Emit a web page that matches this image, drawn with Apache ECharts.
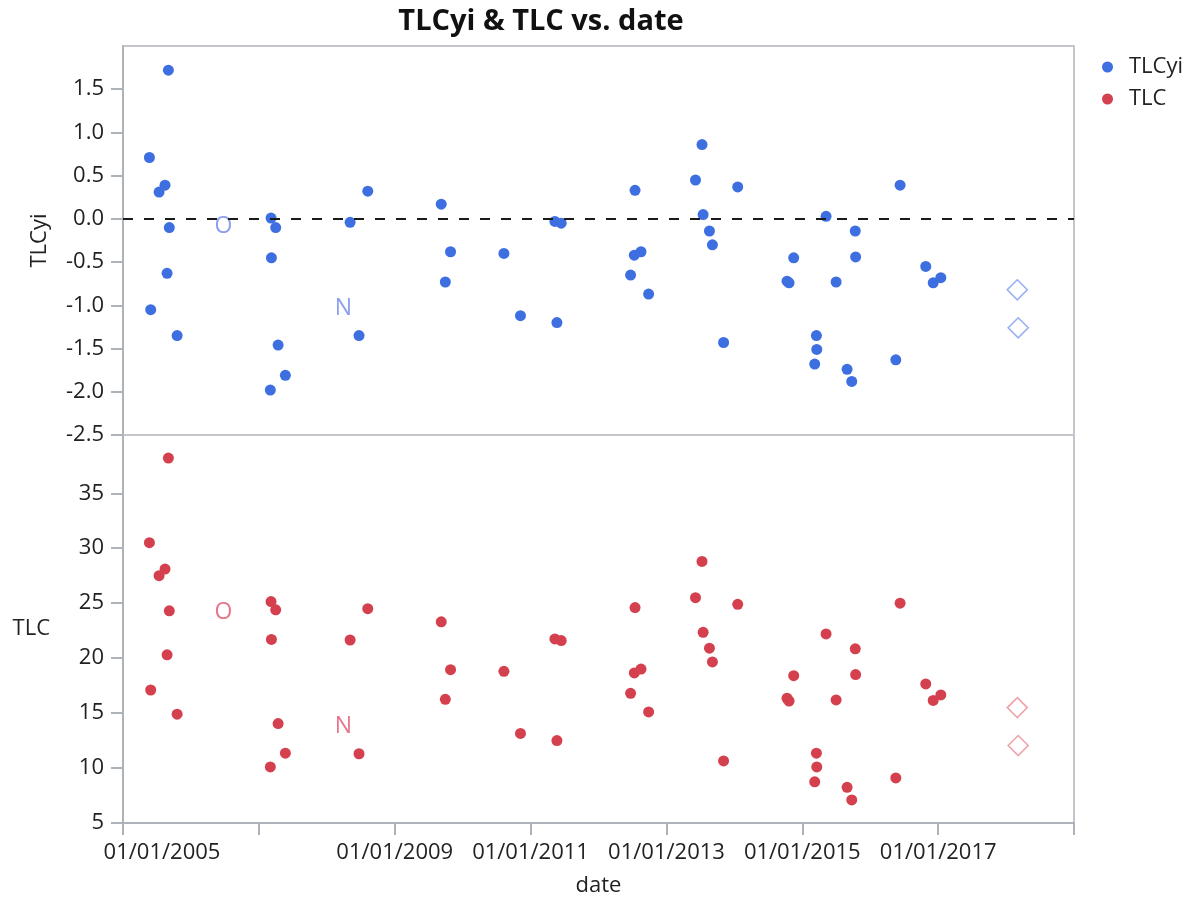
<!DOCTYPE html>
<html>
<head>
<meta charset="utf-8">
<script src="https://cdn.jsdelivr.net/npm/echarts@6/dist/echarts.min.js"></script>
<style>
html,body{margin:0;padding:0;background:#fff;}
#c{width:1194px;height:898px;}
</style>
</head>
<body>
<div id="c"></div>
<script>
// ---- data ----
const dates = ['2005-05-23','2005-05-30','2005-07-14','2005-08-15','2005-09-02','2005-09-07','2005-08-26','2005-10-19',
  '2007-03-08','2007-04-02','2007-03-10','2007-04-15','2007-05-24','2007-03-04',
  '2008-05-06','2008-08-09','2008-06-23',
  '2009-09-08','2009-10-28','2009-09-30',
  '2010-08-11','2010-11-08',
  '2011-05-12','2011-06-15','2011-05-23',
  '2012-07-16','2012-07-12','2012-08-17','2012-06-22','2012-09-27',
  '2013-06-06','2013-07-11','2013-07-17','2013-08-20','2013-09-05','2014-01-19','2013-11-04',
  '2014-11-16','2014-10-11','2014-10-22',
  '2015-05-09','2015-10-13','2015-10-15','2015-07-02','2015-03-18','2015-03-20','2015-03-09','2015-08-30','2015-09-24',
  '2016-06-10','2016-05-18','2016-10-26','2016-12-05','2017-01-15'];
const tlcyi = [0.71,-1.05,0.31,0.39,1.72,-0.10,-0.63,-1.35,
  0.01,-0.10,-0.45,-1.46,-1.81,-1.98,
  -0.04,0.32,-1.35,
  0.17,-0.38,-0.73,
  -0.40,-1.12,
  -0.03,-0.05,-1.20,
  0.33,-0.42,-0.38,-0.65,-0.87,
  0.45,0.86,0.05,-0.14,-0.30,0.37,-1.43,
  -0.45,-0.72,-0.74,
  0.03,-0.14,-0.44,-0.73,-1.35,-1.51,-1.68,-1.74,-1.88,
  0.39,-1.63,-0.55,-0.74,-0.68];
const tlc = [30.5,17.1,27.5,28.1,38.2,24.3,20.3,14.9,
  25.15,24.4,21.7,14.05,11.35,10.1,
  21.65,24.5,11.3,
  23.3,18.95,16.25,
  18.8,13.15,
  21.75,21.6,12.5,
  24.6,18.65,19.0,16.8,15.1,
  25.5,28.8,22.35,20.9,19.65,24.9,10.65,
  18.4,16.35,16.1,
  22.2,20.85,18.5,16.2,11.35,10.1,8.75,8.25,7.1,
  25.0,9.1,17.65,16.15,16.65];
// letter-marked rows
const letterDates = ['2006-06-25','2008-03-31'];
const letterChars = ['O','N'];
const letterTlcyi = [-0.085,-1.04];
const letterTlc = [24.15,13.75];
// diamond-marked rows
const diamondDates = ['2018-03-02','2018-03-07'];
const diamondTlcyi = [-0.82,-1.26];
const diamondTlc = [15.5,12.05];
// axes
const xMin = '2005-01-01', xMax = '2019-01-01';
const xTickDates = ['2005-01-01','2007-01-01','2009-01-01','2011-01-01','2013-01-01','2015-01-01','2017-01-01','2019-01-01'];
const xLabelDates = ['2005-01-01','2009-01-01','2011-01-01','2013-01-01','2015-01-01','2017-01-01'];
const yTopTicks = [-2.5,-2.0,-1.5,-1.0,-0.5,0.0,0.5,1.0,1.5];
const yTopMin = -2.5, yTopMax = 2.0;
const yBotTicks = [5,10,15,20,25,30,35];
const yBotMin = 5, yBotMax = 40.3;

// ---- helpers ----
const ts = s => echarts.number.parseDate(s).getTime();
const pad = n => (n < 10 ? '0' : '') + n;
const fmtDate = v => { const d = new Date(v); return pad(d.getMonth()+1) + '/' + pad(d.getDate()) + '/' + d.getFullYear(); };
const zip = (xs, ys) => xs.map((d, i) => [ts(d), ys[i]]);

const FONT = '"Open Sans", "Noto Sans", sans-serif';
const FS = 22;
const BLUE = '#3e6fe1', RED = '#d5404f';
const AXIS_COLOR = '#aeb3ba';
const TXT = '#222';
const minTs = ts(xMin);

const chart = echarts.init(document.getElementById('c'));
const axisCommonX = {
  type: 'value', min: ts(xMin), max: ts(xMax), scale: true,
  splitLine: { show: false }
};
chart.setOption({
  animation: false,
  textStyle: { fontFamily: FONT },
  title: {
    text: 'TLCyi & TLC vs. date', left: 536, top: 2, textAlign: 'center',
    textStyle: { fontFamily: FONT, fontWeight: 'bold', fontSize: 29, color: '#111' }
  },
  legend: {
    data: ['TLCyi', 'TLC'], orient: 'vertical', left: 1097, top: 50,
    icon: 'circle', itemWidth: 11, itemHeight: 11, itemGap: 8,
    textStyle: { fontFamily: FONT, fontSize: FS, color: TXT, lineHeight: 24, padding: [0, 0, 0, 11] }
  },
  grid: [
    { left: 123, top: 46, width: 951, height: 389, show: true, borderColor: '#c3c7cc', borderWidth: 2, containLabel: false },
    { left: 123, top: 435, width: 951, height: 388, show: true, borderColor: '#c3c7cc', borderWidth: 2, containLabel: false }
  ],
  xAxis: [
    Object.assign({ gridIndex: 0, show: false }, axisCommonX),
    Object.assign({
      gridIndex: 1,
      name: 'date', nameLocation: 'middle', nameGap: 52,
      nameTextStyle: { fontFamily: FONT, fontSize: FS, color: TXT },
      axisLine: { show: true, lineStyle: { color: AXIS_COLOR, width: 2 } },
      axisTick: { show: true, length: 12, lineStyle: { color: AXIS_COLOR, width: 2 }, customValues: xTickDates.map(ts) },
      axisLabel: {
        margin: 19, fontFamily: FONT, fontSize: FS, color: TXT,
        customValues: xLabelDates.map(ts),
        formatter: v => (v === minTs ? '{first|' + fmtDate(v) + '}' : fmtDate(v)),
        rich: { first: { padding: [0, 0, 0, 78], fontFamily: FONT, fontSize: FS, color: TXT } }
      }
    }, axisCommonX)
  ],
  yAxis: [
    {
      gridIndex: 0, type: 'value', min: yTopMin, max: yTopMax,
      name: 'TLCyi', nameLocation: 'middle', nameGap: 72, nameRotate: 90,
      nameTextStyle: { fontFamily: FONT, fontSize: FS, color: TXT },
      splitLine: { show: false },
      axisLine: { show: true, lineStyle: { color: AXIS_COLOR, width: 2 } },
      axisTick: { show: true, length: 12, lineStyle: { color: AXIS_COLOR, width: 2 }, customValues: yTopTicks },
      axisLabel: { margin: 19, fontFamily: FONT, fontSize: FS, color: TXT, customValues: yTopTicks, formatter: v => v.toFixed(1) }
    },
    {
      gridIndex: 1, type: 'value', min: yBotMin, max: yBotMax,
      name: 'TLC', nameLocation: 'middle', nameGap: 73, nameRotate: 0,
      nameTextStyle: { fontFamily: FONT, fontSize: FS, color: TXT },
      splitLine: { show: false },
      axisLine: { show: true, lineStyle: { color: AXIS_COLOR, width: 2 } },
      axisTick: { show: true, length: 12, lineStyle: { color: AXIS_COLOR, width: 2 }, customValues: yBotTicks },
      axisLabel: { margin: 19, fontFamily: FONT, fontSize: FS, color: TXT, customValues: yBotTicks, formatter: v => String(v) }
    }
  ],
  series: [
    {
      name: 'TLCyi', type: 'scatter', xAxisIndex: 0, yAxisIndex: 0,
      symbol: 'circle', symbolSize: 11, itemStyle: { color: BLUE, opacity: 1 },
      data: zip(dates, tlcyi),
      markLine: {
        silent: true, symbol: 'none', label: { show: false },
        lineStyle: { color: '#1a1a1a', type: [10, 11], width: 2 },
        data: [{ yAxis: 0 }]
      },
      z: 3
    },
    {
      name: 'TLC', type: 'scatter', xAxisIndex: 1, yAxisIndex: 1,
      symbol: 'circle', symbolSize: 11, itemStyle: { color: RED, opacity: 1 },
      data: zip(dates, tlc), z: 3
    },
    {
      name: 'diamondTop', type: 'scatter', xAxisIndex: 0, yAxisIndex: 0,
      symbol: 'diamond', symbolSize: [20, 20],
      itemStyle: { color: 'rgba(255,255,255,0)', borderColor: '#7f9cf0', borderWidth: 1.6 },
      data: zip(diamondDates, diamondTlcyi)
    },
    {
      name: 'diamondBot', type: 'scatter', xAxisIndex: 1, yAxisIndex: 1,
      symbol: 'diamond', symbolSize: [20, 20],
      itemStyle: { color: 'rgba(255,255,255,0)', borderColor: '#ea8c96', borderWidth: 1.6 },
      data: zip(diamondDates, diamondTlc)
    },
    {
      name: 'letterTop', type: 'scatter', xAxisIndex: 0, yAxisIndex: 0,
      symbol: 'circle', symbolSize: 2, itemStyle: { color: 'rgba(255,255,255,0)' },
      data: letterDates.map((d, i) => ({ value: [ts(d), letterTlcyi[i]], ch: letterChars[i] })),
      label: { show: true, position: 'inside', formatter: p => p.data.ch, fontFamily: FONT, fontSize: 23, color: '#6f86ee' },
      z: 4
    },
    {
      name: 'letterBot', type: 'scatter', xAxisIndex: 1, yAxisIndex: 1,
      symbol: 'circle', symbolSize: 2, itemStyle: { color: 'rgba(255,255,255,0)' },
      data: letterDates.map((d, i) => ({ value: [ts(d), letterTlc[i]], ch: letterChars[i] })),
      label: { show: true, position: 'inside', formatter: p => p.data.ch, fontFamily: FONT, fontSize: 23, color: '#e2546e' },
      z: 4
    }
  ]
});
</script>
</body>
</html>
